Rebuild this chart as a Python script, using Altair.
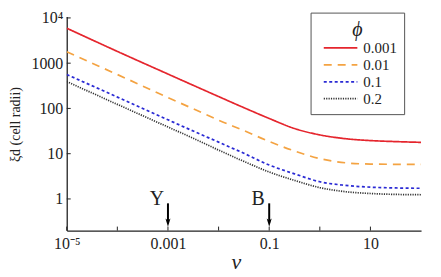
import math
import altair as alt
import pandas as pd

# ---- data ----
nu = [1e-5, 1e-4, 1e-3, 0.00316, 0.01, 0.0316, 0.1, 0.316, 1, 3.16, 10, 31.6, 100]
phi_labels = ["0.001", "0.01", "0.1", "0.2"]
xi_phi_0001 = [5930, 1820, 575, 324, 183, 104, 60, 36, 26, 21.5, 19.5, 18.5, 17.8]
xi_phi_001 = [1780, 562, 174, 98, 55, 32.4, 18.6, 11.5, 7.8, 6.3, 5.9, 5.82, 5.79]
xi_phi_01 = [564, 178, 56.2, 31.6, 18.0, 10.2, 5.62, 3.59, 2.40, 2.0, 1.82, 1.75, 1.72]
xi_phi_02 = [393, 123, 38.9, 21.9, 12.0, 6.76, 3.94, 2.57, 1.78, 1.45, 1.32, 1.26, 1.24]

line_colors = ["#e5252d", "#f4a342", "#2a2ad4", "#333333"]
line_dashes = [[1, 0], [8, 6], [3, 2.5], [1.2, 1.2]]

x_tick_values = [1e-5, 1e-4, 1e-3, 1e-2, 1e-1, 1, 10]
x_tick_labels = ["10⁻⁵", "", "0.001", "", "0.1", "", "10"]
y_tick_values = [1, 10, 100, 1000, 10000]
y_tick_labels = ["1", "10", "100", "1000", "10⁴"]

arrow_nu = [0.001, 0.1]
arrow_labels = ["Y", "B"]
arrow_top = [0.8, 0.8]
arrow_head = [0.3, 0.3]
label_xi = [1.0, 1.0]

# ---- build tables ----
rows = []
for lab, ys in zip(phi_labels, [xi_phi_0001, xi_phi_001, xi_phi_01, xi_phi_02]):
    for n, y in zip(nu, ys):
        rows.append({"nu": n, "xi": y, "phi": lab})
df = pd.DataFrame(rows)

arrows = pd.DataFrame({"nu": arrow_nu, "top": arrow_top, "head": arrow_head,
                       "lab": arrow_labels, "ly": label_xi})
xticks = pd.DataFrame({"v": x_tick_values})
yticks = pd.DataFrame({"v": y_tick_values})


def label_expr(values, labels):
    expr = "''"
    for v, lab in reversed(list(zip(values, labels))):
        expr = f"abs(log(datum.value)/LN10 - ({math.log10(v)})) < 0.01 ? '{lab}' : " + expr
    return expr


W, H = 356, 215
FONT = "Liberation Serif"
xscale = alt.Scale(type="log", domain=[1e-5, 100], nice=False)
yscale = alt.Scale(type="log", domain=[0.2, 10700], nice=False)

x_axis = alt.Axis(values=x_tick_values, labelExpr=label_expr(x_tick_values, x_tick_labels),
                  tickSize=0, labelPadding=5, labelFont=FONT, labelFontSize=16,
                  labelColor="#222", domainColor="#222", domainWidth=1.3, grid=False,
                  title="ν", titleFont=FONT, titleFontSize=22, titleFontStyle="italic",
                  titleFontWeight="normal", titleColor="#222", titleX=170, titleY=31,
                  titleBaseline="middle", titleAlign="center", labelFlush=False)
y_axis = alt.Axis(values=y_tick_values, labelExpr=label_expr(y_tick_values, y_tick_labels),
                  tickSize=0, labelPadding=4, labelFont=FONT, labelFontSize=16,
                  labelColor="#222", domainColor="#222", domainWidth=1.3, grid=False,
                  title="ξd (cell radii)", titleFont=FONT, titleFontSize=14,
                  titleFontWeight="normal", titleColor="#222", titleX=-51, titleY=108,
                  titleAngle=-90, titleBaseline="middle", titleAlign="center", labelFlush=False)

lines = alt.Chart(df).mark_line(strokeWidth=1.7, interpolate="monotone", clip=True).encode(
    x=alt.X("nu:Q", scale=xscale, axis=x_axis),
    y=alt.Y("xi:Q", scale=yscale, axis=y_axis),
    color=alt.Color("phi:N", scale=alt.Scale(domain=phi_labels, range=line_colors),
                    legend=alt.Legend(title="ϕ", orient="none", legendX=245, legendY=-4,
                                      symbolType="M-0.3,0H4.2", symbolSize=225,
                                      symbolStrokeWidth=1.7, labelFont=FONT,
                                      labelFontSize=15, labelColor="#222",
                                      titleFont=FONT, titleFontSize=20,
                                      titleFontStyle="italic", titleFontWeight="normal",
                                      titleColor="#222", titleAnchor="middle",
                                      strokeColor="#555", fillColor="white",
                                      padding=7, labelOffset=29, rowPadding=0,
                                      titlePadding=0)),
    strokeDash=alt.StrokeDash("phi:N", scale=alt.Scale(domain=phi_labels, range=line_dashes),
                              legend=None),
)

xtick_layer = alt.Chart(xticks).mark_rule(color="#222", strokeWidth=1).encode(
    x=alt.X("v:Q", scale=xscale), y=alt.value(H), y2=alt.value(H - 4))
ytick_layer = alt.Chart(yticks).mark_rule(color="#222", strokeWidth=1).encode(
    y=alt.Y("v:Q", scale=yscale), x=alt.value(0), x2=alt.value(4))

stems = alt.Chart(arrows).mark_rule(color="black", strokeWidth=2).encode(
    x=alt.X("nu:Q", scale=xscale), y=alt.Y("top:Q", scale=yscale), y2="head:Q")
heads = alt.Chart(arrows).mark_point(
    shape="M0,1L-0.6,-1L0,-0.5L0.6,-1Z", filled=True, color="black", opacity=1, size=70
).encode(x=alt.X("nu:Q", scale=xscale), y=alt.Y("head:Q", scale=yscale))
labels = alt.Chart(arrows).mark_text(font=FONT, fontSize=20, color="#222", dx=-11,
                                     baseline="middle", align="center").encode(
    x=alt.X("nu:Q", scale=xscale), y=alt.Y("ly:Q", scale=yscale), text="lab:N")

chart = alt.layer(lines, xtick_layer, ytick_layer, stems, heads, labels).properties(
    width=W, height=H,
    autosize=alt.AutoSizeParams(type="none"),
    padding={"left": 59, "top": 8, "right": 12, "bottom": 46},
).configure(font=FONT).configure_view(stroke=None)

chart.save("out.html", embed_options={"renderer": "svg", "actions": False})
